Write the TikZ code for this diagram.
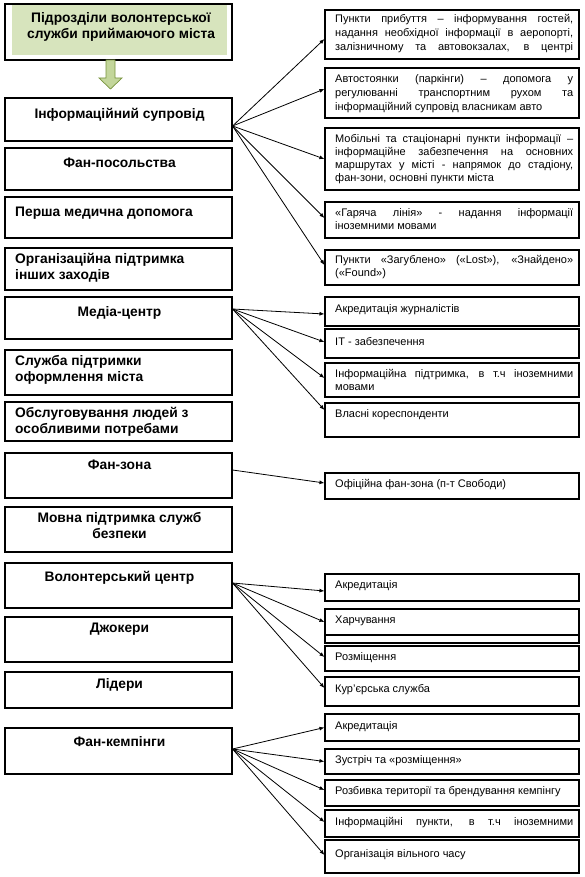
\documentclass[tikz,border=0pt]{standalone}
\usepackage{fontspec}
\setmainfont{Liberation Sans}
\usetikzlibrary{arrows.meta}
\definecolor{tgreen}{HTML}{D7E4BD}
\definecolor{agreen}{HTML}{C3D69B}
\definecolor{aline}{HTML}{77933C}
\newcommand\jline[1]{\makebox[238pt][s]{#1}}
\begin{document}
\begin{tikzpicture}[x=1pt,y=-1pt,
  box/.style={draw, line width=1.1pt, inner sep=0, minimum width=227pt},
  rbox/.style={draw, line width=1.1pt, inner sep=0, minimum width=254pt},
  ltext/.style={font=\fontsize{13.8}{16}\selectfont\bfseries, inner sep=0, align=center, anchor=north},
  ltextl/.style={font=\fontsize{13.8}{16}\selectfont\bfseries, inner sep=0, align=left, anchor=north west},
  rtext/.style={font=\fontsize{11}{13}\selectfont, inner sep=0, align=left, anchor=north west},
  conn/.style={line width=0.8pt, -{Latex[length=5pt,width=4pt]}}
]
\useasboundingbox (0,0) rectangle (585,877);

% title
\fill[tgreen] (12,5) rectangle (227,55);
\node[box, minimum height=56pt] (L0) at (118.5,32) {};
\node[ltext] (L0t) at (121,12.5) {Підрозділи волонтерської\\служби приймаючого міста};
\draw[aline, fill=agreen, line width=0.7pt] (106,60) -- (115,60) -- (115,78) -- (122,78) -- (110.5,89) -- (99,78) -- (106,78) -- cycle;

% left boxes
\node[box, minimum height=43pt] (L1) at (118.5,119.5) {};
\node[ltext] (L1t) at (119.5,108) {Інформаційний супровід};
\node[box, minimum height=42pt] (L2) at (118.5,169) {};
\node[ltext] (L2t) at (119.5,158) {Фан-посольства};
\node[box, minimum height=41pt] (L3) at (118.5,217.5) {};
\node[ltextl] (L3t) at (15,207) {Перша медична допомога};
\node[box, minimum height=42pt] (L4) at (118.5,269) {};
\node[ltextl] (L4t) at (15,253) {Організаційна підтримка\\інших заходів};
\node[box, minimum height=42pt] (L5) at (118.5,318) {};
\node[ltext] (L5t) at (119.5,306) {Медіа-центр};
\node[box, minimum height=45pt] (L6) at (118.5,372.5) {};
\node[ltextl] (L6t) at (15,355) {Служба підтримки\\оформлення міста};
\node[box, minimum height=39pt] (L7) at (118.5,421.5) {};
\node[ltextl] (L7t) at (15,407) {Обслуговування людей з\\особливими потребами};
\node[box, minimum height=45pt] (L8) at (118.5,475.5) {};
\node[ltext] (L8t) at (119.5,460) {Фан-зона};
\node[box, minimum height=45pt] (L9) at (118.5,529.5) {};
\node[ltext] (L9t) at (119.5,512) {Мовна підтримка служб\\безпеки};
\node[box, minimum height=45pt] (L10) at (118.5,585.5) {};
\node[ltext] (L10t) at (119.5,571) {Волонтерський центр};
\node[box, minimum height=45pt] (L11) at (118.5,639.5) {};
\node[ltext] (L11t) at (119.5,623) {Джокери};
\node[box, minimum height=36pt] (L12) at (118.5,690) {};
\node[ltext] (L12t) at (119.5,678) {Лідери};
\node[box, minimum height=46pt] (L13) at (118.5,751) {};
\node[ltext] (L13t) at (119.5,736) {Фан-кемпінги};

% right boxes
\node[rbox, minimum height=49pt] (R1) at (452,34.5) {};
\node[rtext, font=\fontsize{11}{14}\selectfont] (R1t) at (335,14) {\jline{Пункти прибуття – інформування гостей,}\\\jline{надання необхідної інформації в аеропорті,}\\\jline{залізничному та автовокзалах, в центрі}};
\node[rbox, minimum height=50pt] (R2) at (452,93) {};
\node[rtext, font=\fontsize{11}{14}\selectfont] (R2t) at (335,74.5) {\jline{Автостоянки (паркінги) – допомога у}\\\jline{регулюванні транспортним рухом та}\\інформаційний супровід власникам авто};
\node[rbox, minimum height=62pt] (R3) at (452,159) {};
\node[rtext] (R3t) at (335,134) {\jline{Мобільні та стаціонарні пункти інформації –}\\\jline{інформаційне забезпечення на основних}\\\jline{маршрутах у місті - напрямок до стадіону,}\\фан-зони, основні пункти міста};
\node[rbox, minimum height=36pt] (R4) at (452,220) {};
\node[rtext] (R4t) at (335,208) {\jline{«Гаряча лінія» - надання інформації}\\іноземними мовами};
\node[rbox, minimum height=35pt] (R5) at (452,267.5) {};
\node[rtext] (R5t) at (335,255.5) {\jline{Пункти «Загублено» («Lost»), «Знайдено»}\\(«Found»)};
\node[rbox, minimum height=29pt] (R6) at (452,311.5) {};
\node[rtext] (R6t) at (335,304.5) {Акредитація журналістів};
\node[rbox, minimum height=29pt] (R7) at (452,343.5) {};
\node[rtext] (R7t) at (335,337) {IT - забезпечення};
\node[rbox, minimum height=34pt] (R8) at (452,380) {};
\node[rtext] (R8t) at (335,369.5) {\jline{Інформаційна підтримка, в т.ч іноземними}\\мовами};
\node[rbox, minimum height=34pt] (R9) at (452,420) {};
\node[rtext] (R9t) at (335,409) {Власні кореспонденти};
\node[rbox, minimum height=26pt] (R10) at (452,486) {};
\node[rtext] (R10t) at (335,479.5) {Офіційна фан-зона (п-т Свободи)};
\node[rbox, minimum height=27pt] (R11) at (452,587.5) {};
\node[rtext] (R11t) at (335,580.5) {Акредитація};
\node[rbox, minimum height=34pt] (R12b) at (452,626) {};
\node[rbox, minimum height=26pt] (R12) at (452,622) {};
\node[rtext] (R12t) at (335,615.5) {Харчування};
\node[rbox, minimum height=25pt] (R13) at (452,658.5) {};
\node[rtext] (R13t) at (335,652) {Розміщення};
\node[rbox, minimum height=29pt] (R14) at (452,691.5) {};
\node[rtext] (R14t) at (335,684.5) {Кур’єрська служба};
\node[rbox, minimum height=27pt] (R15) at (452,727.5) {};
\node[rtext] (R15t) at (335,721) {Акредитація};
\node[rbox, minimum height=25pt] (R16) at (452,761.5) {};
\node[rtext] (R16t) at (335,755) {Зустріч та «розміщення»};
\node[rbox, minimum height=26pt] (R17) at (452,793) {};
\node[rtext] (R17t) at (335,786.5) {Розбивка території та брендування кемпінгу};
\node[rbox, minimum height=27pt] (R18) at (452,823.5) {};
\node[rtext] (R18t) at (335,817) {\jline{Інформаційні пункти, в т.ч іноземними}};
\node[rbox, minimum height=33pt] (R19) at (452,856.5) {};
\node[rtext] (R19t) at (335,849.5) {Організація вільного часу};

% connectors
\draw[conn] ([yshift=-6.5pt]L1.east) -- ([yshift=-4.5pt]R1.west);
\draw[conn] ([yshift=-6.5pt]L1.east) -- ([yshift=4pt]R2.west);
\draw[conn] ([yshift=-6.5pt]L1.east) -- (R3.west);
\draw[conn] ([yshift=-6.5pt]L1.east) -- ([yshift=2pt]R4.west);
\draw[conn] ([yshift=-6.5pt]L1.east) -- ([yshift=2.5pt]R5.west);

\draw[conn] ([yshift=9pt]L5.east) -- ([yshift=-2.5pt]R6.west);
\draw[conn] ([yshift=9pt]L5.east) -- ([yshift=1.5pt]R7.west);
\draw[conn] ([yshift=9pt]L5.east) -- ([yshift=2pt]R8.west);
\draw[conn] ([yshift=9pt]L5.east) -- ([yshift=10pt]R9.west);

\draw[conn] ([yshift=5.5pt]L8.east) -- ([yshift=3pt]R10.west);

\draw[conn] ([yshift=2.5pt]L10.east) -- ([yshift=-3.5pt]R11.west);
\draw[conn] ([yshift=2.5pt]L10.east) -- (R12.west);
\draw[conn] ([yshift=2.5pt]L10.east) -- ([yshift=1.5pt]R13.west);
\draw[conn] ([yshift=2.5pt]L10.east) -- ([yshift=3.5pt]R14.west);

\draw[conn] ([yshift=2pt]L13.east) -- (R15.west);
\draw[conn] ([yshift=2pt]L13.east) -- (R16.west);
\draw[conn] ([yshift=2pt]L13.east) -- ([yshift=3pt]R17.west);
\draw[conn] ([yshift=2pt]L13.east) -- ([yshift=1.5pt]R18.west);
\draw[conn] ([yshift=2pt]L13.east) -- ([yshift=1.5pt]R19.west);
\end{tikzpicture}
\end{document}
